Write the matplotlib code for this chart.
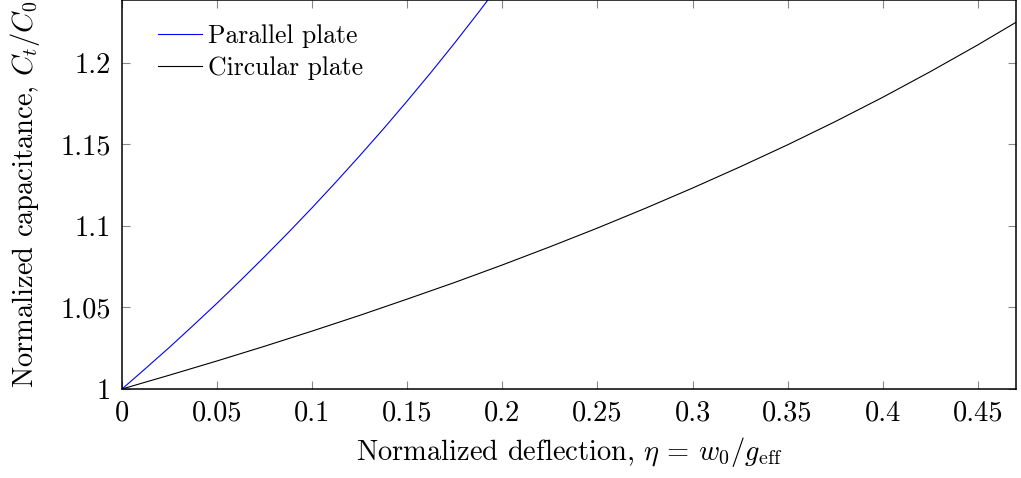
import matplotlib
matplotlib.use("Agg")
import matplotlib.pyplot as plt

plt.rcParams["font.family"] = "serif"
plt.rcParams["font.serif"] = ["cmr10"]
plt.rcParams["mathtext.fontset"] = "cm"
plt.rcParams["axes.formatter.use_mathtext"] = True
plt.rcParams["font.size"] = 20.5

# Normalized deflection values and capacitance ratios
eta_parallel = [0.0, 0.0125, 0.025, 0.0375, 0.05, 0.0625, 0.075, 0.0875, 0.1,
                0.1125, 0.125, 0.1375, 0.15, 0.1625, 0.175, 0.1875, 0.2]
c_parallel = [1.0, 1.0127, 1.0256, 1.0390, 1.0526, 1.0667, 1.0811, 1.0959, 1.1111,
              1.1268, 1.1429, 1.1594, 1.1765, 1.1940, 1.2121, 1.2308, 1.25]

eta_circular = [0.0, 0.025, 0.05, 0.075, 0.1, 0.125, 0.15, 0.175, 0.2, 0.225,
                0.25, 0.275, 0.3, 0.325, 0.35, 0.375, 0.4, 0.425, 0.45, 0.47]
c_circular = [1.0, 1.0085, 1.0172, 1.0262, 1.0355, 1.0451, 1.0551, 1.0653, 1.0760,
              1.0871, 1.0986, 1.1106, 1.1231, 1.1361, 1.1496, 1.1638, 1.1787,
              1.1944, 1.2108, 1.2246]

x_ticks = [0, 0.05, 0.1, 0.15, 0.2, 0.25, 0.3, 0.35, 0.4, 0.45]
x_tick_labels = ["0", "0.05", "0.1", "0.15", "0.2", "0.25", "0.3", "0.35", "0.4", "0.45"]
y_ticks = [1.0, 1.05, 1.1, 1.15, 1.2]
y_tick_labels = ["1", "1.05", "1.1", "1.15", "1.2"]

fig = plt.figure(figsize=(10.21, 4.78), dpi=100)
ax = fig.add_axes([0.1195, 0.1862, 0.8755, 0.8128])

ax.plot(eta_parallel, c_parallel, color="blue", lw=0.8, label="Parallel plate")
ax.plot(eta_circular, c_circular, color="black", lw=0.8, label="Circular plate")

ax.set_xlim(0, 0.47)
ax.set_ylim(1.0, 1.238)
ax.set_xticks(x_ticks)
ax.set_xticklabels(x_tick_labels)
ax.set_yticks(y_ticks)
ax.set_yticklabels(y_tick_labels)

ax.tick_params(direction="in", length=6, width=0.8, color="#888888",
               top=True, right=True, pad=8)
for s in ax.spines.values():
    s.set_linewidth(1.1)

ax.set_xlabel(r"Normalized deflection, $\eta\,=\,w_0/g_{\mathrm{eff}}$", labelpad=6)
ax.set_ylabel(r"Normalized capacitance, $C_t/C_0$", labelpad=13)

ax.legend(loc="upper left", frameon=False, fontsize=18.5, handlelength=1.71,
          handletextpad=0.23, borderaxespad=0.0, labelspacing=0.32,
          bbox_to_anchor=(0.029, 0.966))

fig.savefig("out.png", dpi=100)
